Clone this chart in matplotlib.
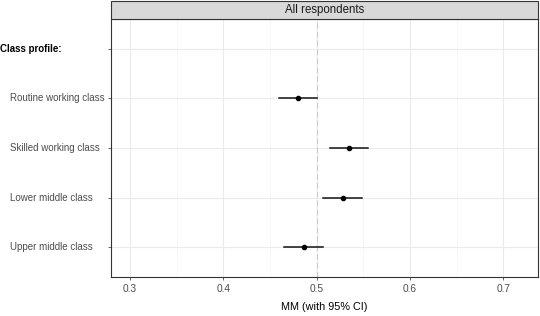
import matplotlib.pyplot as plt
import matplotlib.transforms as mtransforms
from matplotlib.patches import Rectangle

# data
labels = ["Class profile:", "Routine working class", "Skilled working class",
          "Lower middle class", "Upper middle class"]
mm = [None, 0.480, 0.535, 0.528, 0.486]
lower = [None, 0.460, 0.514, 0.507, 0.465]
upper = [None, 0.500, 0.555, 0.549, 0.507]
xticks = [0.3, 0.4, 0.5, 0.6, 0.7]

plt.rcParams['font.family'] = ['Liberation Sans', 'DejaVu Sans']

fig = plt.figure(figsize=(5.4, 3.16), dpi=100)
ax = fig.add_axes([111 / 540, 39 / 316, 427 / 540, 258 / 316])

n = len(labels)
ypos = [n - i for i in range(n)]

# grid
for x in xticks:
    ax.axvline(x, color="#ebebeb", lw=0.8, zorder=0)
for x in [0.35, 0.45, 0.55, 0.65]:
    ax.axvline(x, color="#f4f4f4", lw=0.5, zorder=0)
for y in ypos:
    ax.axhline(y, color="#ebebeb", lw=0.8, zorder=0)

ax.axvline(0.5, color="#c8c8c8", lw=0.8, ls=(0, (5, 3)), zorder=1)

for y, m, lo, hi in zip(ypos, mm, lower, upper):
    if m is None:
        continue
    ax.plot([lo, hi], [y, y], color="#111111", lw=1.1, zorder=2)
    ax.plot(m, y, "o", color="black", ms=3.0, zorder=3)

ax.set_xlim(0.2796, 0.737)
ax.set_ylim(0.4, 5.6)
ax.set_xticks(xticks)
ax.set_xticklabels([f"{x:g}" for x in xticks])
ax.set_yticks(ypos)
ax.set_yticklabels([])
ax.tick_params(axis="both", labelsize=7.3, colors="#4d4d4d", length=2.5, width=0.6)
ax.tick_params(axis="x", pad=2.5)
ax.set_xlabel("MM (with 95% CI)", fontsize=7.8, labelpad=6)

# y labels, left aligned
trans = mtransforms.blended_transform_factory(fig.transFigure, ax.transData)
for i, (y, lab) in enumerate(zip(ypos, labels)):
    if i == 0:
        ax.text(0 / 540, y, lab, transform=trans, ha="left", va="center",
                fontsize=7.0, fontweight="bold", color="black")
    else:
        ax.text(10 / 540, y, lab, transform=trans, ha="left", va="center",
                fontsize=7.0, color="#4d4d4d")

for sp in ax.spines.values():
    sp.set_color("#333333")
    sp.set_linewidth(0.8)

# facet strip
strip = Rectangle((111 / 540, 297 / 316), 427 / 540, 18.5 / 316, transform=fig.transFigure,
                  facecolor="#d9d9d9", edgecolor="#333333", lw=0.8)
fig.patches.append(strip)
fig.text((111 + 427 / 2) / 540, 306 / 316, "All respondents", ha="center", va="center",
         fontsize=8.3, color="#1a1a1a")

fig.savefig("out.png", dpi=100)
